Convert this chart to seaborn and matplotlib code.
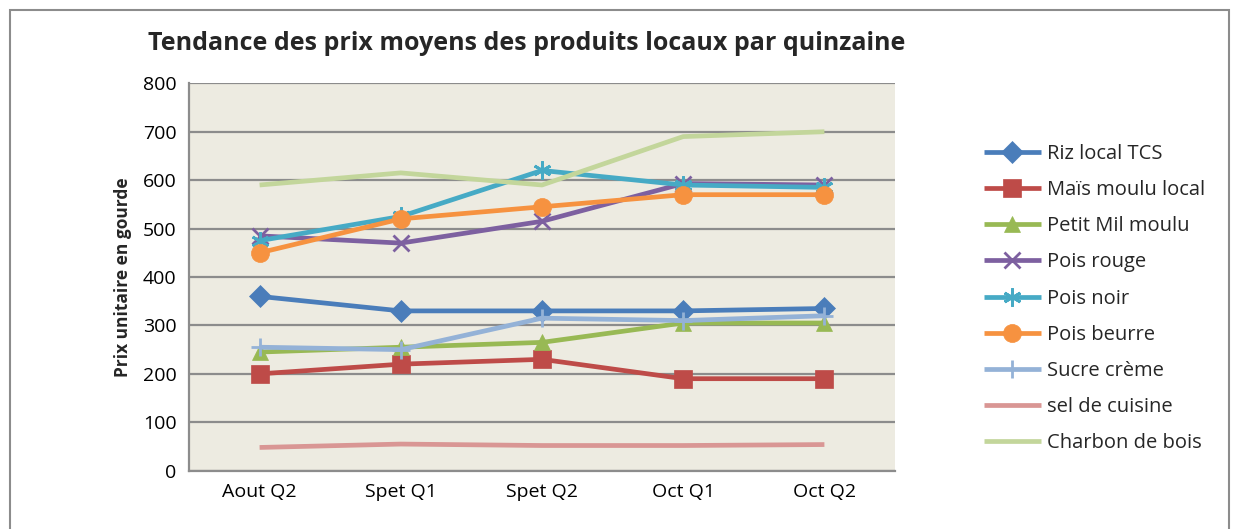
import matplotlib
matplotlib.use("Agg")
import matplotlib.pyplot as plt
import seaborn as sns
import pandas as pd
from matplotlib.patches import Rectangle

periods = ["Aout Q2", "Spet Q1", "Spet Q2", "Oct Q1", "Oct Q2"]
riz_local = [360, 330, 330, 330, 335]
mais_moulu = [200, 220, 230, 190, 190]
petit_mil = [245, 255, 265, 305, 305]
pois_rouge = [485, 470, 515, 593, 590]
pois_noir = [475, 525, 620, 590, 585]
pois_beurre = [450, 520, 545, 570, 570]
sucre_creme = [255, 250, 315, 310, 320]
sel_cuisine = [48, 55, 52, 52, 54]
charbon_bois = [590, 615, 590, 690, 700]

series_names = ["Riz local TCS", "Maïs moulu local", "Petit Mil moulu", "Pois rouge",
                "Pois noir", "Pois beurre", "Sucre crème", "sel de cuisine", "Charbon de bois"]
series_values = [riz_local, mais_moulu, petit_mil, pois_rouge, pois_noir,
                 pois_beurre, sucre_creme, sel_cuisine, charbon_bois]

colors = ["#4A7DBA", "#BE4B48", "#98B954", "#7D60A0", "#46AAC5",
          "#F69240", "#94B2D7", "#D99694", "#C3D69B"]
markers = ["D", "s", "^", "x", (6, 2, 0), "o", "+", "", ""]
msizes = [11, 13, 12, 11, 13, 13, 13, 0, 0]

rows = []
for name, vals in zip(series_names, series_values):
    for p, v in zip(periods, vals):
        rows.append({"Période": p, "Prix": v, "Produit": name})
df = pd.DataFrame(rows)

sns.set_theme(style="white")
plt.rcParams['font.family'] = ['Open Sans', 'DejaVu Sans']

fig = plt.figure(figsize=(12.33, 5.29), dpi=100)
ax = fig.add_axes([189/1233, 1 - 470.7/529, (895-189)/1233, (470.7-83.3)/529])
ax.set_facecolor("#EDEBE1")

for name, vals, c, m, ms in zip(series_names, series_values, colors, markers, msizes):
    sub = df[df["Produit"] == name]
    sns.lineplot(data=sub, x="Période", y="Prix", ax=ax, color=c, linewidth=3.4,
                 marker=m if m else None, markersize=ms, markeredgewidth=2 if m in ("x", "+", (6, 2, 0)) else 0.5,
                 markeredgecolor=c, label=name, sort=False, solid_capstyle="butt")

ax.set_xlim(-0.5, 4.5)
ax.set_ylim(0, 800)
ax.set_yticks(range(0, 801, 100))
ax.yaxis.grid(True, color="#8C8C8C", linewidth=1.6)
ax.set_axisbelow(True)
for side in ["top", "right"]:
    ax.spines[side].set_visible(False)
for side in ["left", "bottom"]:
    ax.spines[side].set_color("#8C8C8C")
    ax.spines[side].set_linewidth(1.6)
ax.tick_params(axis="both", length=0, labelsize=14, colors="black", pad=9)
ax.set_xlabel("")
ax.set_ylabel("Prix unitaire en gourde", fontsize=12.5, fontweight="bold", labelpad=8)

leg = ax.legend(loc="upper left", bbox_to_anchor=(966/1233, 1 - 126/529), bbox_transform=fig.transFigure,
                frameon=False, fontsize=14.5, labelspacing=0.80, handlelength=2.8, handletextpad=0.3)

fig.text(527/1233, 1 - 43/529, "Tendance des prix moyens des produits locaux par quinzaine",
         ha="center", va="center", fontsize=18, fontweight="bold")

fig.patches.append(Rectangle((10/1233, -0.05), (1229-10)/1233, 1.05 - 10/529, transform=fig.transFigure,
                             fill=False, edgecolor="#8C8C8C", linewidth=1.5))

fig.savefig("out.png", dpi=100)
